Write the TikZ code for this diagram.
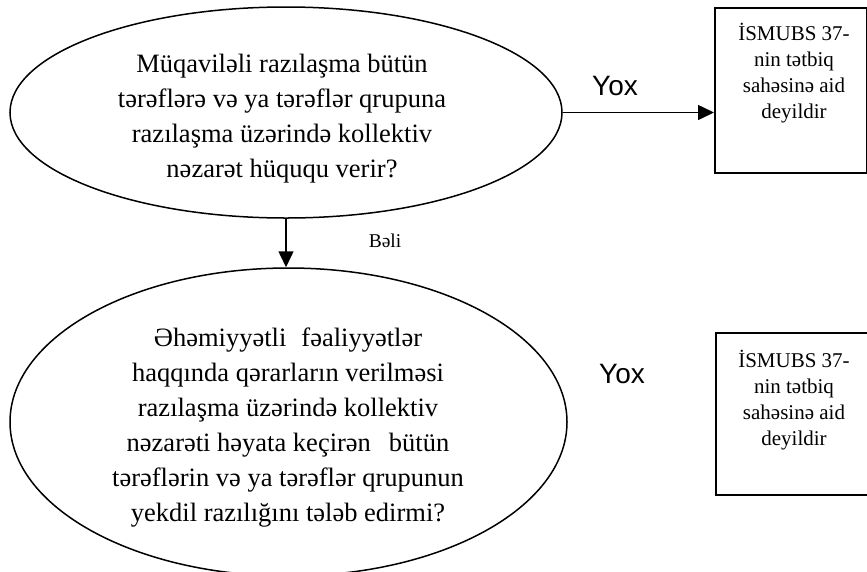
\documentclass[tikz,border=0pt]{standalone}
\usepackage{fontspec}
\setmainfont{Liberation Serif}
\newfontfamily\arialfont{Liberation Sans}
\usetikzlibrary{shapes.geometric,arrows.meta}
\begin{document}
\begin{tikzpicture}[x=1pt,y=-1pt,
  ell/.style={draw=black,line width=1.5pt,ellipse,inner sep=0pt},
  qtext/.style={align=center,inner sep=0pt,font=\fontsize{26.5}{35}\selectfont},
  boxshape/.style={draw=black,line width=1.8pt,rectangle,inner sep=0pt,anchor=north west},
  btext/.style={align=center,inner sep=0pt,font=\fontsize{21}{26}\selectfont,anchor=north},
  arr/.style={line width=1.5pt,-{Triangle[length=16pt,width=15pt]}},
  lbl/.style={font=\arialfont\fontsize{28}{30}\selectfont,inner sep=0pt,anchor=base},
  small/.style={font=\fontsize{19.5}{22}\selectfont,inner sep=0pt,anchor=base}
]
\useasboundingbox (0,0) rectangle (867,571);
% top question
\node[ell,minimum width=552pt,minimum height=211pt] (q1) at (286,112.5) {};
\node[qtext] (t1) at (282,118.4) {Müqaviləli razılaşma bütün\\tərəflərə və ya tərəflər qrupuna\\razılaşma üzərində kollektiv\\nəzarət hüququ verir?};
% bottom question
\node[ell,minimum width=557pt,minimum height=308pt] (q2) at (288.5,422) {};
\node[qtext] (t2) at (288,427.5) {Əhəmiyyətli\hspace{15pt}fəaliyyətlər\\haqqında qərarların verilməsi\\razılaşma üzərində kollektiv\\nəzarəti həyata keçirən\hspace{18pt}bütün\\tərəflərin və ya tərəflər qrupunun\\yekdil razılığını tələb edirmi?};
% boxes
\node[boxshape,minimum width=152pt,minimum height=165pt] (b1) at (714,7) {};
\node[btext] (bt1) at (794,22.6) {İSMUBS 37-\\nin tətbiq\\sahəsinə aid\\deyildir};
\node[boxshape,minimum width=152pt,minimum height=162pt] (b2) at (715,332) {};
\node[btext] (bt2) at (794,349.6) {İSMUBS 37-\\nin tətbiq\\sahəsinə aid\\deyildir};
% connectors
\draw[arr] (q1.east) -- (q1.east -| b1.west);
\draw[arr] (q1.south) -- (q1.south |- q2.north);
% labels
\node[lbl] (y1) at (615,95) {Yox};
\node[lbl] (y2) at (622,383) {Yox};
\node[small] (beli) at (385,247) {Bəli};
\end{tikzpicture}
\end{document}
